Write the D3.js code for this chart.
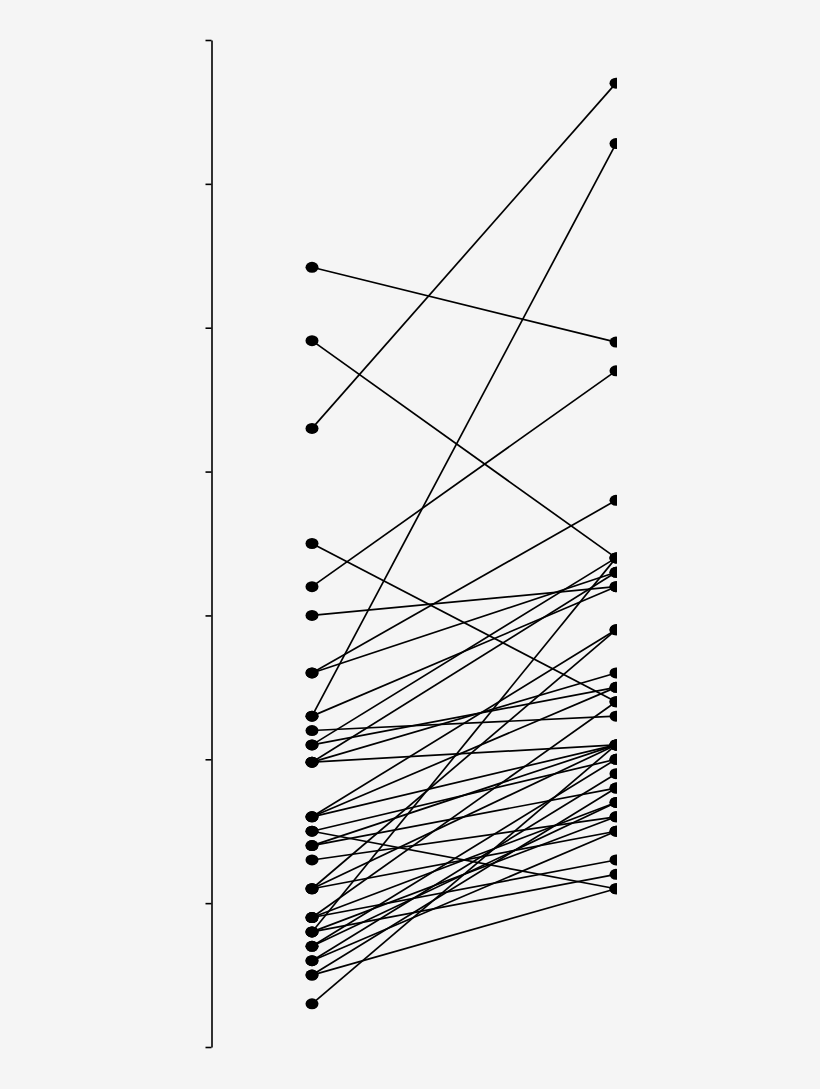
<!DOCTYPE html>
<html>
<head>
<meta charset="utf-8">
<script src="https://cdn.jsdelivr.net/npm/d3@7"></script>
<style>
  html, body { margin: 0; padding: 0; background: #f5f5f5; }
  svg { display: block; }
</style>
</head>
<body>
<svg id="chart" width="820" height="1089"></svg>
<script>
// Paired observations: value at left column -> value at right column
const groups = ["Before", "After"];
const beforeValues = [54.2, 49.1, 43, 35, 32, 30, 26, 26, 23, 23, 22, 21, 21, 19.8, 19.8, 19.8, 16, 16, 16, 15, 15, 14, 14, 13, 11, 11, 11, 9, 9, 9, 8, 8, 8, 7, 7, 6, 6, 5, 5, 3];
const afterValues  = [49, 34, 67, 24, 47, 32, 38, 33, 62.8, 32, 23, 34, 25, 33, 26, 21, 29, 25, 21, 20, 11, 21, 18, 16, 29, 21, 15, 13, 24, 17, 34, 12, 16, 20, 17, 19, 15, 11, 18, 21];
const yTicks = [0, 10, 20, 30, 40, 50, 60, 70];

const svg = d3.select("#chart");
const y = d3.scaleLinear().domain([0, 70]).range([1047, 40]);
const x = d3.scalePoint().domain(groups).range([312, 616]);

svg.append("g")
  .attr("transform", "translate(211.5,0)")
  .call(d3.axisLeft(y).tickValues(yTicks).tickSize(6).tickSizeOuter(0).tickFormat(""))
  .call(g => g.selectAll("path, line").attr("stroke", "#000").attr("stroke-width", 1.6));

svg.append("defs").append("clipPath").attr("id", "clip")
  .append("rect").attr("x", 0).attr("y", 0).attr("width", 617).attr("height", 1089);

const pairs = beforeValues.map((b, i) => ({ b, a: afterValues[i] }));
const plot = svg.append("g").attr("clip-path", "url(#clip)");

plot.selectAll("line.pair").data(pairs).join("line")
  .attr("class", "pair")
  .attr("x1", x("Before")).attr("y1", d => y(d.b))
  .attr("x2", x("After")).attr("y2", d => y(d.a))
  .attr("stroke", "#000").attr("stroke-width", 1.7);

const pts = [];
pairs.forEach(d => { pts.push({ g: "Before", v: d.b }); pts.push({ g: "After", v: d.a }); });
plot.selectAll("ellipse").data(pts).join("ellipse")
  .attr("cx", d => x(d.g)).attr("cy", d => y(d.v))
  .attr("rx", 6.5).attr("ry", 5.5)
  .attr("fill", "#000");
</script>
</body>
</html>
